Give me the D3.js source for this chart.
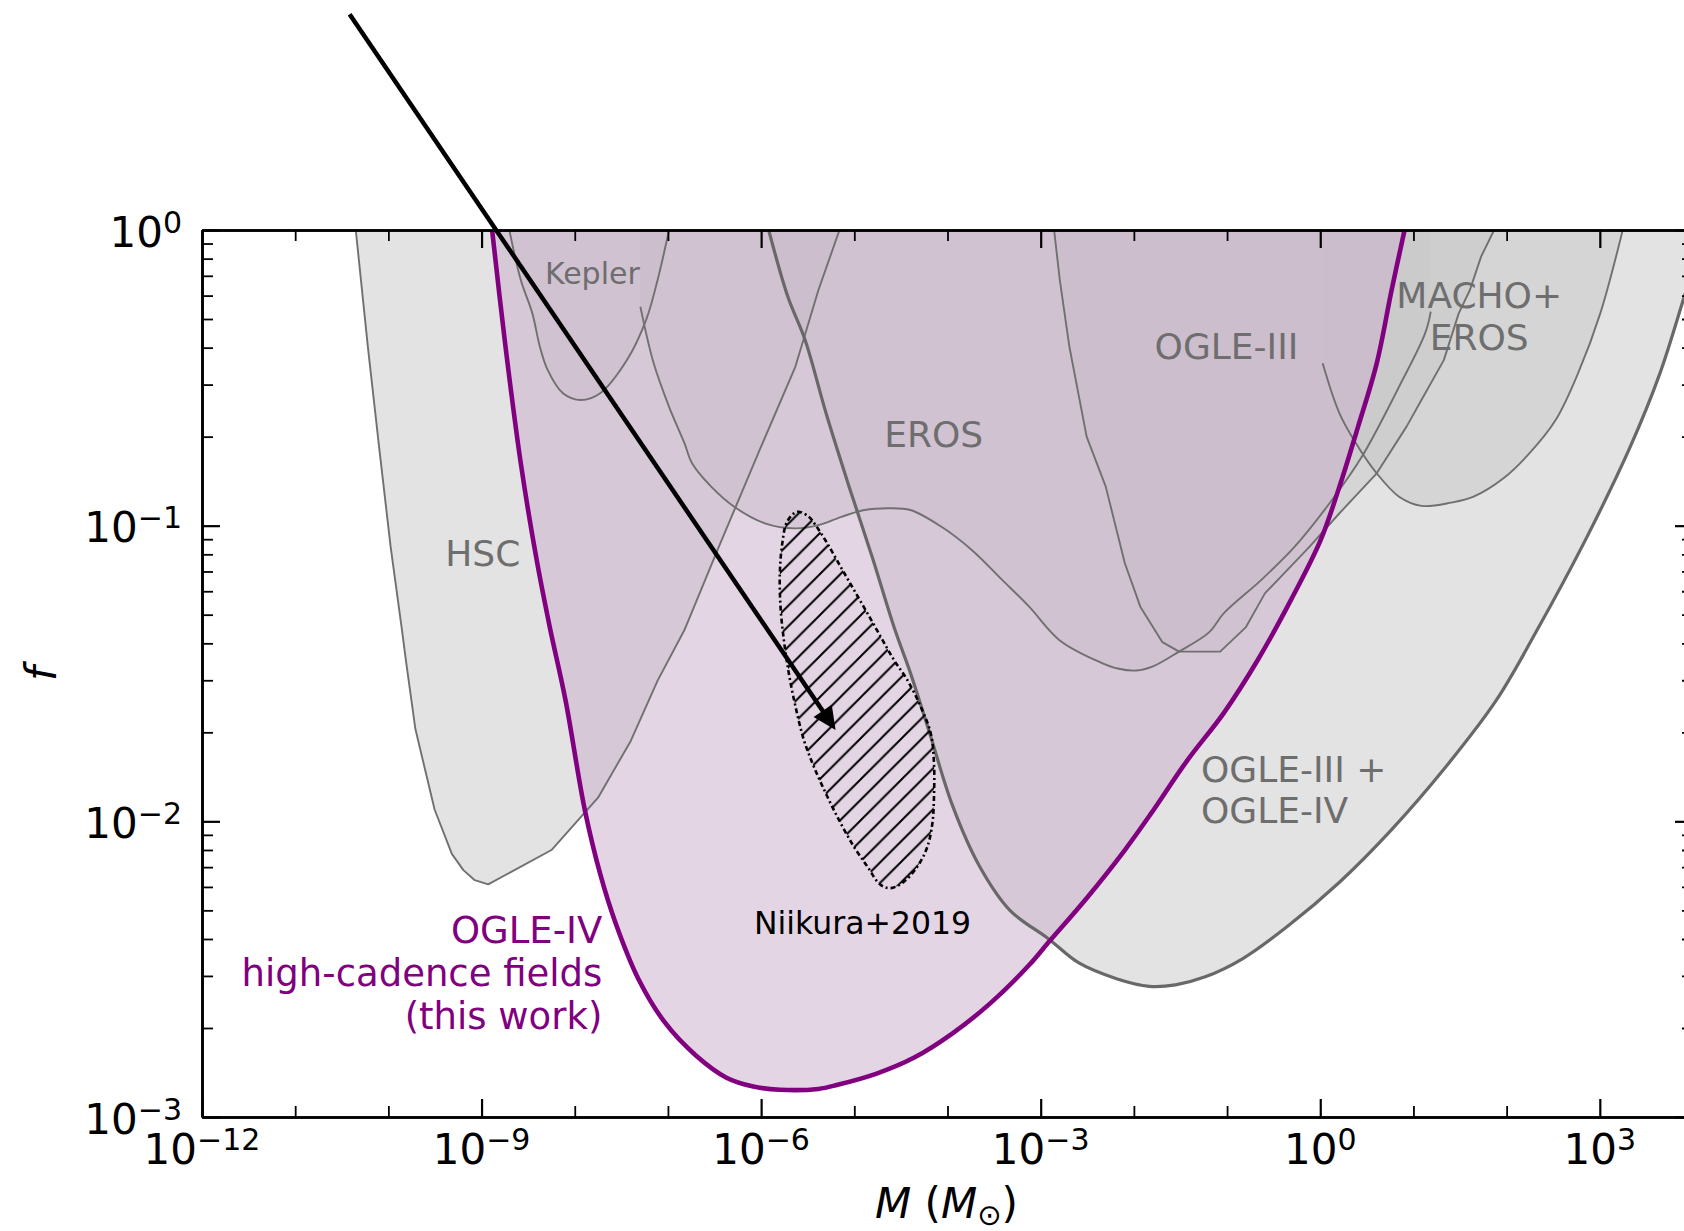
<!DOCTYPE html>
<html><head><meta charset="utf-8">
<script src="https://cdn.jsdelivr.net/npm/d3@7"></script>
<style>
html,body{margin:0;padding:0;background:#fff;}
svg{display:block;}
text{font-family:"DejaVu Sans",sans-serif;}
</style></head><body>
<svg id="chart" width="1684" height="1231"></svg>
<script>
// ---------- data (log10 M [Msun], log10 f) ----------
const hscCurve = [[-10.35,0],[-10.22,-0.395],[-10.10,-0.733],[-9.976,-1.071],[-9.854,-1.353],[-9.812,-1.456],[-9.71,-1.688],[-9.607,-1.824],[-9.504,-1.96],[-9.319,-2.11],[-9.195,-2.165],[-9.073,-2.199],[-8.929,-2.213],[-8.25,-2.097],[-7.75,-1.92],[-7.399,-1.728],[-7.111,-1.524],[-6.823,-1.353],[-6.453,-1.071],[-6.001,-0.733],[-5.632,-0.462],[-5.385,-0.203],[-5.159,0]];
const keplerCurve = [[-8.702,0],[-8.579,-0.169],[-8.455,-0.282],[-8.374,-0.395],[-8.291,-0.473],[-8.127,-0.552],[-7.933,-0.575],[-7.727,-0.552],[-7.44,-0.44],[-7.234,-0.304],[-7.111,-0.169],[-6.988,0]];
const erosCurve = [[-7.296,-0.259],[-7.153,-0.451],[-6.988,-0.598],[-6.823,-0.721],[-6.741,-0.789],[-6.536,-0.868],[-6.289,-0.936],[-5.96,-0.992],[-5.632,-1.009],[-5.385,-0.998],[-5.138,-0.97],[-4.891,-0.947],[-4.644,-0.941],[-4.399,-0.947],[-4.069,-1.003],[-3.74,-1.082],[-3.411,-1.184],[-3.124,-1.274],[-2.795,-1.388],[-2.354,-1.463],[-2.174,-1.483],[-1.974,-1.49],[-1.795,-1.476],[-1.515,-1.426],[-1.194,-1.361],[-1.034,-1.296],[-0.635,-1.184],[-0.274,-1.071],[0.126,-0.913],[0.446,-0.767],[0.846,-0.53],[1.126,-0.349],[1.186,-0.276]];
const ogle3Curve = [[-2.856,0],[-2.795,-0.169],[-2.692,-0.395],[-2.507,-0.699],[-2.302,-0.868],[-2.097,-1.127],[-1.931,-1.274],[-1.694,-1.394],[-1.515,-1.426],[-1.074,-1.426],[-0.797,-1.343],[-0.594,-1.229],[-0.114,-1.071],[0.206,-0.958],[0.606,-0.823],[0.926,-0.665],[1.086,-0.575],[1.326,-0.44],[1.486,-0.282],[1.606,-0.203],[1.726,-0.09],[1.866,0]];
const machoErosCurve = [[0.026,-0.451],[0.206,-0.62],[0.406,-0.733],[0.606,-0.823],[0.846,-0.902],[1.086,-0.933],[1.405,-0.922],[1.646,-0.902],[1.966,-0.84],[2.246,-0.755],[2.526,-0.643],[2.766,-0.485],[3.005,-0.282],[3.246,0]];
const ogle34Curve = [[-5.919,0],[-5.713,-0.226],[-5.528,-0.372],[-5.303,-0.62],[-5.056,-0.868],[-4.809,-1.105],[-4.563,-1.353],[-4.399,-1.497],[-4.192,-1.701],[-3.946,-1.947],[-3.658,-2.151],[-3.33,-2.301],[-2.918,-2.397],[-2.59,-2.479],[-2.178,-2.533],[-1.835,-2.558],[-1.554,-2.553],[-1.234,-2.526],[-0.835,-2.465],[-0.354,-2.356],[0.206,-2.206],[0.766,-2.028],[1.326,-1.824],[1.886,-1.592],[2.327,-1.353],[2.846,-1.048],[3.327,-0.733],[3.645,-0.485],[3.918,-0.214],[4.122,-0.014]];
const ogle4HcfCurve = [[-8.887,0],[-8.743,-0.395],[-8.579,-0.789],[-8.415,-1.105],[-8.27,-1.34],[-8.098,-1.592],[-7.893,-1.96],[-7.727,-2.178],[-7.564,-2.342],[-7.317,-2.533],[-7.029,-2.682],[-6.7,-2.792],[-6.372,-2.867],[-6.084,-2.897],[-5.796,-2.908],[-5.385,-2.905],[-5.179,-2.891],[-4.768,-2.854],[-4.357,-2.799],[-3.946,-2.717],[-3.536,-2.614],[-3.124,-2.486],[-2.918,-2.41],[-2.507,-2.26],[-2.097,-2.097],[-1.817,-1.974],[-1.434,-1.797],[-1.034,-1.633],[-0.674,-1.456],[-0.314,-1.251],[0.005,-1.048],[0.206,-0.868],[0.406,-0.665],[0.606,-0.451],[0.766,-0.203],[0.905,0]];
const niikuraContour = [[-5.612,-0.953],[-5.488,-0.97],[-5.416,-0.998],[-5.29,-1.06],[-5.147,-1.139],[-5.004,-1.217],[-4.86,-1.296],[-4.718,-1.375],[-4.575,-1.454],[-4.431,-1.522],[-4.288,-1.612],[-4.18,-1.702],[-4.145,-1.804],[-4.145,-1.916],[-4.162,-2.006],[-4.216,-2.086],[-4.323,-2.153],[-4.467,-2.204],[-4.61,-2.226],[-4.718,-2.215],[-4.86,-2.153],[-5.004,-2.086],[-5.147,-2.006],[-5.29,-1.916],[-5.434,-1.815],[-5.541,-1.725],[-5.631,-1.612],[-5.703,-1.499],[-5.756,-1.387],[-5.792,-1.274],[-5.799,-1.161],[-5.773,-1.06],[-5.72,-0.986]];
const arrowFrom = [-10.416, 0.730];
const arrowTo = [-5.201, -1.691];

const xMajorExp = [-12,-9,-6,-3,0,3];
const xMinorExp = [-11,-10,-8,-7,-5,-4,-2,-1,1,2,4];
const xTickLabels = ["\u221212","\u22129","\u22126","\u22123","0","3"];
const yMajorExp = [-3,-2,-1,0];
const yTickLabels = ["\u22123","\u22122","\u22121","0"];

// ---------- setup ----------
const svg = d3.select("#chart");
const plot = {left:202, right:1693, top:230, bottom:1117};
const x = d3.scaleLog().domain([1e-12,1e4]).range([plot.left, plot.right]);
const y = d3.scaleLog().domain([1e-3,1]).range([plot.bottom, plot.top]);
const px = d => x(Math.pow(10,d[0]));
const py = d => y(Math.pow(10,d[1]));

const defs = svg.append("defs");
defs.append("clipPath").attr("id","clip").append("rect")
  .attr("x",plot.left).attr("y",plot.top).attr("width",plot.right-plot.left).attr("height",plot.bottom-plot.top);
const pat = defs.append("pattern").attr("id","hatch").attr("patternUnits","userSpaceOnUse")
  .attr("width",20.5).attr("height",20.5);
pat.append("path").attr("d","M-2,22.5 L22.5,-2 M-5,5 L5,-5 M15.5,25.5 L25.5,15.5")
  .attr("stroke","#000").attr("stroke-width",2).attr("fill","none");

const lineLin = d3.line().x(px).y(py);
const lineSm = d3.line().x(px).y(py).curve(d3.curveCatmullRom.alpha(0.5));

function regionPath(pts, gen){
  const first = pts[0], last = pts[pts.length-1];
  return gen(pts) + `L${px(last)},${plot.top}L${px(first)},${plot.top}Z`;
}

const g = svg.append("g").attr("clip-path","url(#clip)");

const grayRegions = [
  {pts:hscCurve, gen:lineLin},
  {pts:keplerCurve, gen:lineSm},
  {pts:erosCurve, gen:lineSm},
  {pts:ogle3Curve, gen:lineLin},
  {pts:machoErosCurve, gen:lineSm},
  {pts:ogle34Curve, gen:lineSm}
];
grayRegions.forEach(r=>{
  g.append("path").attr("d",regionPath(r.pts,r.gen))
    .attr("fill","rgb(200,200,200)").attr("fill-opacity",0.5).attr("stroke","none");
});
// this work region
g.append("path").attr("d",regionPath(ogle4HcfCurve,lineSm))
  .attr("fill","rgb(206,178,206)").attr("fill-opacity",0.54).attr("stroke","none");

// thin grey boundaries
grayRegions.slice(0,5).forEach(r=>{
  g.append("path").attr("d",r.gen(r.pts)).attr("fill","none")
    .attr("stroke","#707070").attr("stroke-width",1.9).attr("stroke-linejoin","round");
});
// thick OGLE-III + OGLE-IV boundary
g.append("path").attr("d",lineSm(ogle34Curve)).attr("fill","none")
  .attr("stroke","#686868").attr("stroke-width",3.2).attr("stroke-linejoin","round");

// Niikura+2019 hatched contour
g.append("path").attr("d",d3.line().x(px).y(py).curve(d3.curveCatmullRomClosed.alpha(0.5))(niikuraContour))
  .attr("fill","url(#hatch)").attr("stroke","#000").attr("stroke-width",2.6)
  .attr("stroke-dasharray","5,3,2,3");

// purple curve
g.append("path").attr("d",lineSm(ogle4HcfCurve)).attr("fill","none")
  .attr("stroke","#800080").attr("stroke-width",4.6).attr("stroke-linejoin","round");

// ---------- labels ----------
function label(pos, lines, opts){
  const t = svg.append("text")
    .attr("x",px(pos)).attr("y",py(pos))
    .attr("text-anchor",opts.anchor||"middle")
    .attr("font-size",opts.size).attr("fill",opts.color);
  lines.forEach((s,i)=>{
    t.append("tspan").attr("x",px(pos)).attr("dy",i===0?0:opts.lh).text(s);
  });
}
const grey = "#6e6e6e";
label([-8.987,-1.136],["HSC"],{size:36,color:grey});
label([-7.811,-0.181],["Kepler"],{size:30,color:grey});
label([-4.148,-0.734],["EROS"],{size:36,color:grey});
label([-1.006,-0.435],["OGLE-III"],{size:36,color:grey});
label([1.706,-0.265],["MACHO+","EROS"],{size:36,color:grey,lh:41.5});
label([-1.28,-1.867],["OGLE-III +","OGLE-IV"],{size:36,color:grey,anchor:"start",lh:41});
label([-7.704,-2.411],["OGLE-IV","high-cadence fields","(this work)"],{size:37,color:"#800080",anchor:"end",lh:43});
label([-4.911,-2.381],["Niikura+2019"],{size:31.5,color:"#000"});

// ---------- arrow ----------
(function(){
  const x0=px(arrowFrom), y0=py(arrowFrom), x1=px(arrowTo), y1=py(arrowTo);
  const dx=x1-x0, dy=y1-y0, L=Math.hypot(dx,dy), ux=dx/L, uy=dy/L;
  const hl=23, hw=11;
  const bx=x1-ux*hl, by=y1-uy*hl;
  svg.append("line").attr("x1",x0).attr("y1",y0).attr("x2",bx+ux*2).attr("y2",by+uy*2)
    .attr("stroke","#000").attr("stroke-width",4.5);
  svg.append("path").attr("d",`M${x1},${y1}L${bx-uy*hw},${by+ux*hw}L${bx+uy*hw},${by-ux*hw}Z`)
    .attr("fill","#000");
})();

// ---------- axes ----------
const xMaj = xMajorExp.map(e=>Math.pow(10,e));
const xMin = xMinorExp.map(e=>Math.pow(10,e));
const yMaj = yMajorExp.map(e=>Math.pow(10,e));
const yMin = [];
[-3,-2,-1].forEach(e=>{for(let k=2;k<=9;k++) yMin.push(k*Math.pow(10,e));});

function ax(gen, scale, vals, size, tr){
  const a = svg.append("g").attr("transform",tr)
    .call(gen(scale).tickValues(vals).tickSize(size).tickSizeOuter(0).tickFormat(""));
  a.selectAll(".domain").attr("stroke","#000").attr("stroke-width",2.6);
  a.selectAll(".tick line").attr("stroke","#000").attr("stroke-width",size===-18?2.2:1.8);
  a.selectAll("text").remove();
}
ax(d3.axisBottom,x,xMaj,-18,`translate(0,${plot.bottom})`);
ax(d3.axisBottom,x,xMin,-11,`translate(0,${plot.bottom})`);
ax(d3.axisTop,x,xMaj,-18,`translate(0,${plot.top})`);
ax(d3.axisTop,x,xMin,-11,`translate(0,${plot.top})`);
ax(d3.axisLeft,y,yMaj,-18,`translate(${plot.left},0)`);
ax(d3.axisLeft,y,yMin,-11,`translate(${plot.left},0)`);
ax(d3.axisRight,y,yMaj,-18,`translate(${plot.right},0)`);
ax(d3.axisRight,y,yMin,-11,`translate(${plot.right},0)`);

// tick labels
xMaj.forEach((v,i)=>{
  const t = svg.append("text").attr("x",x(v)).attr("y",plot.bottom+47)
    .attr("text-anchor","middle").attr("font-size",42).attr("fill","#000");
  t.append("tspan").text("10");
  t.append("tspan").attr("dy",-14).attr("font-size",30).text(xTickLabels[i]);
});
yMaj.forEach((v,i)=>{
  const t = svg.append("text").attr("x",plot.left-20).attr("y",y(v)+16.5)
    .attr("text-anchor","end").attr("font-size",42).attr("fill","#000");
  t.append("tspan").text("10");
  t.append("tspan").attr("dy",-14).attr("font-size",30).text(yTickLabels[i]);
});

// axis titles
const xl = svg.append("text").attr("x",(plot.left+plot.right)/2 - 1).attr("y",1218)
  .attr("text-anchor","middle").attr("font-size",42).attr("fill","#000");
xl.append("tspan").attr("font-style","italic").text("M");
xl.append("tspan").text(" (");
xl.append("tspan").attr("font-style","italic").text("M");
xl.append("tspan").attr("dy",7).attr("font-size",29).text("\u2299");
xl.append("tspan").attr("dy",-7).text(")");

svg.append("text").attr("transform",`translate(56,${(plot.top+plot.bottom)/2}) rotate(-90)`)
  .attr("text-anchor","middle").attr("font-size",42).attr("font-style","italic").attr("fill","#000").text("f");
</script>
</body></html>
